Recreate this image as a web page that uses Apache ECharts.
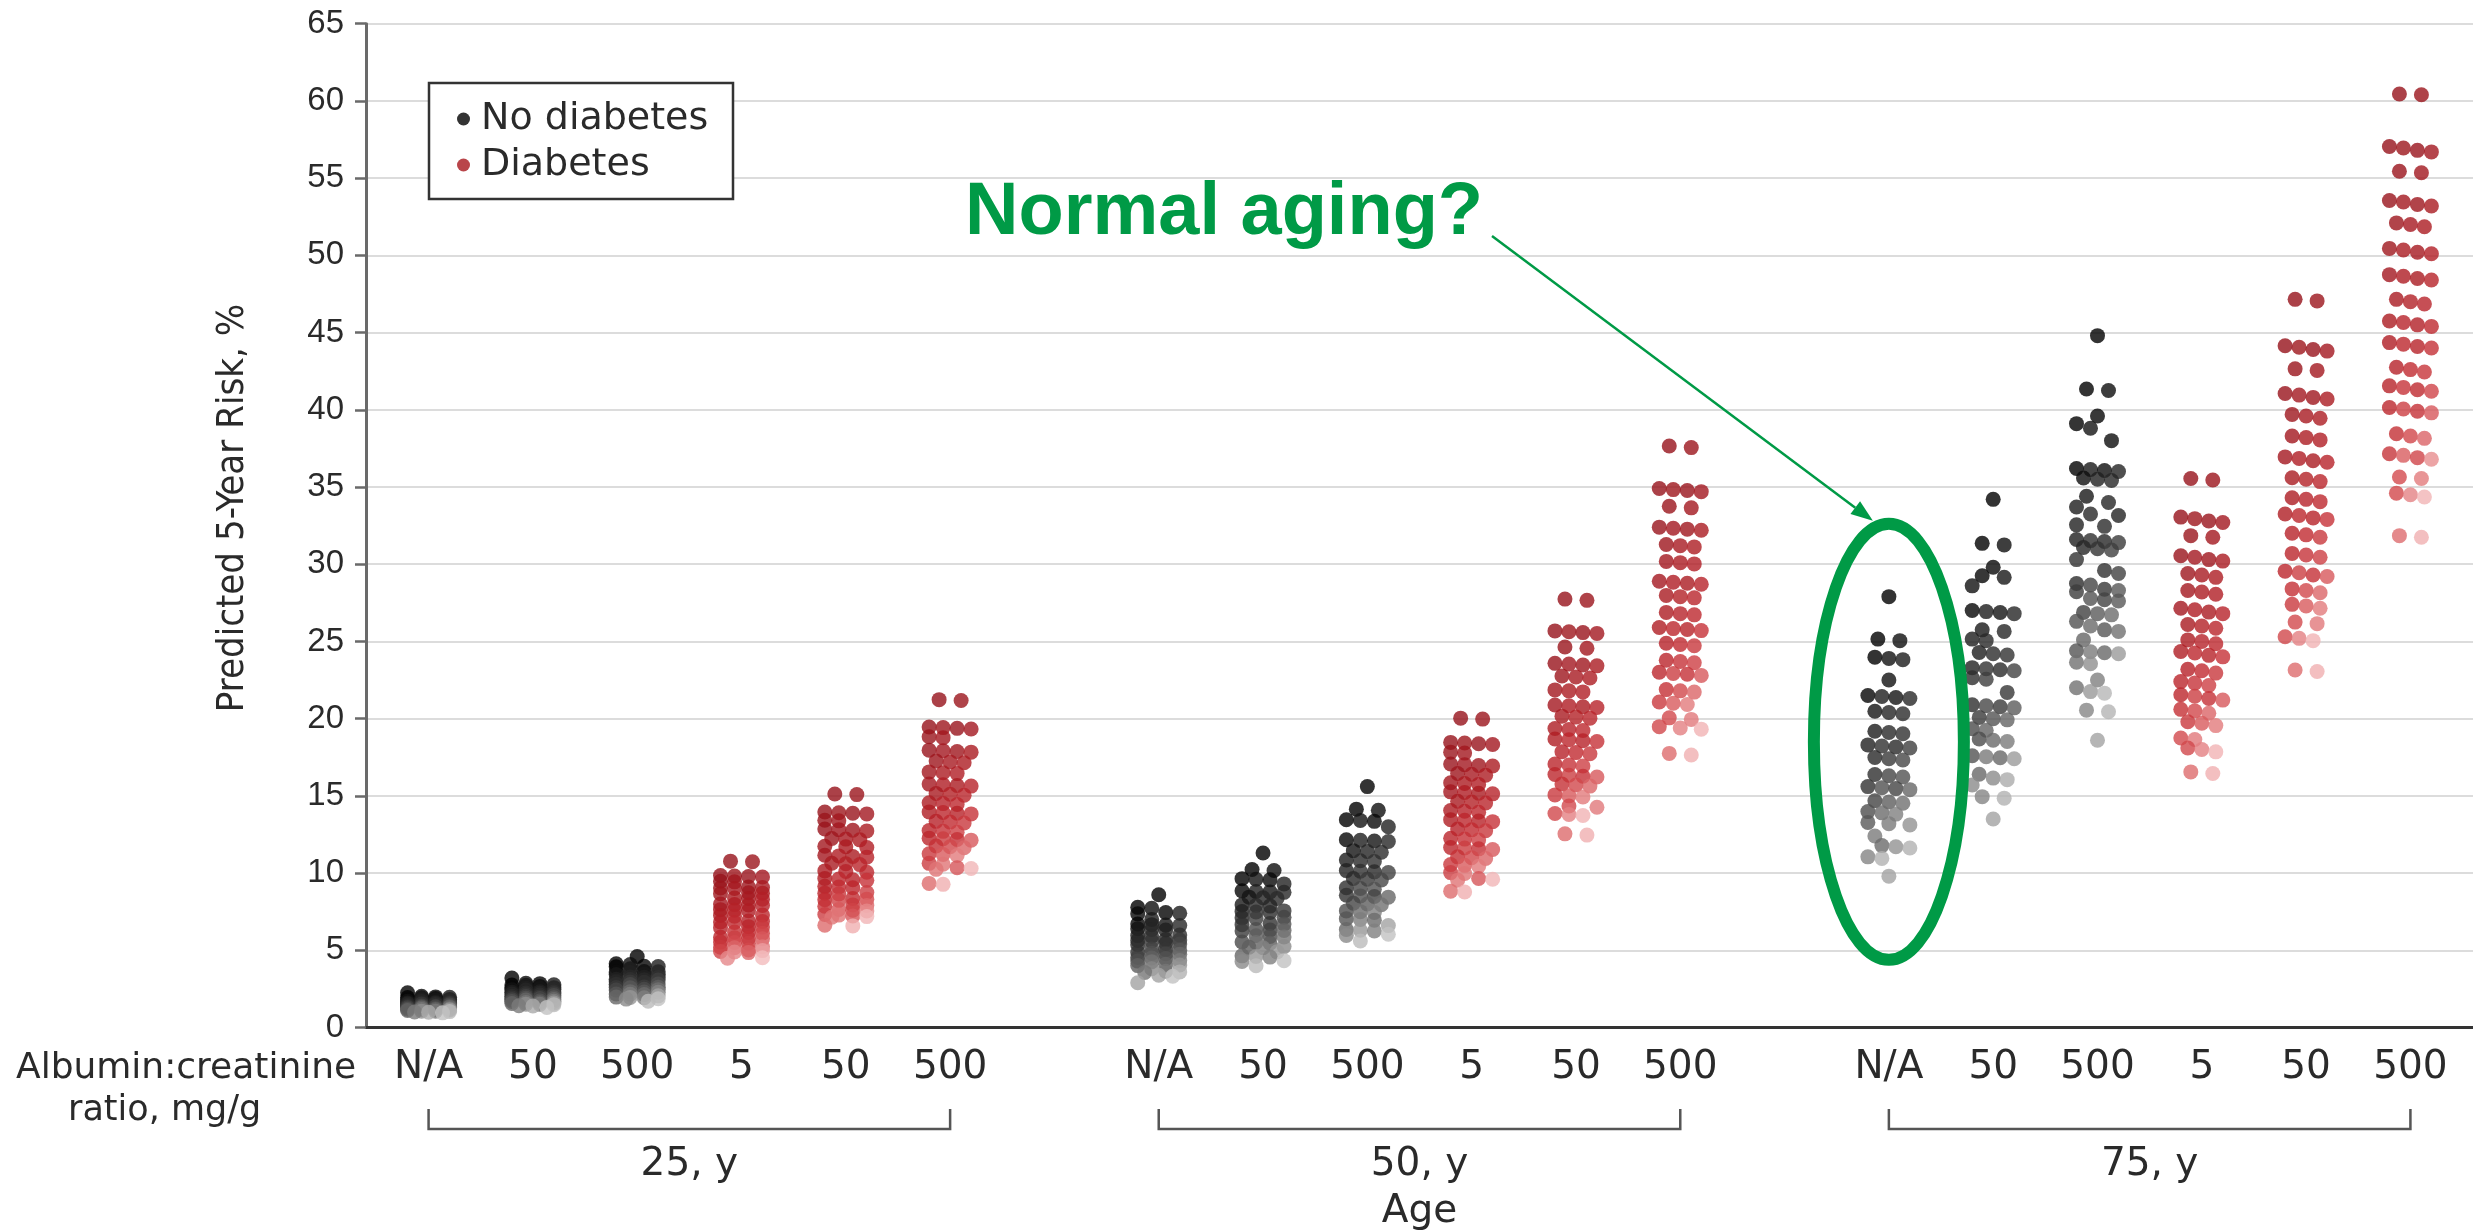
<!DOCTYPE html>
<html>
<head>
<meta charset="utf-8">
<script src="https://cdn.jsdelivr.net/npm/echarts@6/dist/echarts.min.js"></script>
<style>
html,body{margin:0;padding:0;background:#fff;}
#c{width:2473px;height:1232px;}
</style>
</head>
<body>
<div id="c"></div>
<script>
// ---------------- DATA ----------------
const ageGroups = ['25, y', '50, y', '75, y'];
const acrLabels = ['N/A', '50', '500', '5', '50', '500'];
const hasDiabetes = [false, false, false, true, true, true];
const seriesNames = ['No diabetes', 'Diabetes'];
const yTitle = 'Predicted 5-Year Risk, %';
const xTitle = 'Age';
const acrTitle = ['Albumin:creatinine', 'ratio, mg/g'];
const calloutText = 'Normal aging?';

// Predicted 5-year risk (%) for each simulated person, per column
const risk25_noDM_NA = [2.25, 2.02,1.98, 1.96,1.94,1.92, 1.87, 1.82,1.8,1.79,1.77, 1.72,1.7,1.68, 1.62,1.6,1.58, 1.56,1.55,1.53,1.52, 1.5,1.48,1.46, 1.42,1.4,1.38, 1.36,1.35,1.33,1.32, 1.3,1.28,1.26, 1.22,1.2,1.18, 1.16,1.15,1.13, 1.1, 1.06,1.05,1.03, 1.0,0.99, 0.95];
const risk25_noDM_50 = [3.2, 2.87,2.84, 2.77,2.75,2.73, 2.66, 2.58,2.56,2.54,2.52, 2.47,2.45,2.43, 2.32,2.3,2.28, 2.23,2.21,2.19,2.17, 2.12,2.1,2.08, 2.02,2.0,1.98, 1.93,1.91,1.89,1.87, 1.82,1.8,1.78, 1.72,1.7,1.68, 1.62,1.6,1.58, 1.55, 1.51,1.5,1.48, 1.41,1.39, 1.3];
const risk25_noDM_500 = [4.6, 4.12,4.08, 3.97,3.95,3.93, 3.8, 3.63,3.61,3.59,3.57, 3.47,3.45,3.43, 3.27,3.25,3.23, 3.13,3.11,3.09,3.07, 2.97,2.95,2.93, 2.82,2.8,2.78, 2.63,2.61,2.59,2.57, 2.47,2.45,2.43, 2.32,2.3,2.28, 2.17,2.15,2.13, 2.05, 1.97,1.95,1.93, 1.86,1.84, 1.7];
const risk25_DM_5 = [10.77,10.73, 9.84,9.81,9.78,9.75, 9.47,9.43, 9.09,9.06,9.03,9.0, 8.73,8.7,8.66, 8.38,8.35,8.31, 7.99,7.96,7.93,7.9, 7.63,7.6,7.56, 7.28,7.25,7.21, 6.89,6.86,6.83,6.8, 6.53,6.5,6.46, 6.18,6.15,6.11, 5.84,5.81,5.78,5.75, 5.53,5.5,5.46, 5.23,5.2,5.16, 5.02,4.98, 4.92,4.89,4.85, 4.52,4.48];
const risk25_DM_50 = [15.12,15.08, 13.95,13.91,13.87,13.83, 13.42,13.38, 12.85,12.81,12.77,12.73, 12.24,12.2,12.15, 11.74,11.7,11.65, 11.15,11.11,11.07,11.03, 10.64,10.6,10.55, 10.14,10.1,10.05, 9.65,9.61,9.57,9.53, 9.14,9.1,9.05, 8.74,8.7,8.65, 8.35,8.31,8.27,8.23, 7.94,7.9,7.85, 7.64,7.6,7.55, 7.32,7.28, 7.22,7.18,7.14, 6.62,6.58];
const risk25_DM_500 = [21.23,21.17, 19.46,19.42,19.37,19.33, 18.83,18.77, 17.96,17.92,17.87,17.83, 17.25,17.2,17.14, 16.55,16.5,16.44, 15.76,15.72,15.67,15.63, 15.15,15.1,15.04, 14.55,14.5,14.44, 13.96,13.92,13.87,13.83, 13.35,13.3,13.24, 12.75,12.7,12.64, 12.26,12.22,12.17,12.13, 11.75,11.7,11.64, 11.25,11.2,11.14, 10.63,10.57, 10.35,10.3,10.24, 9.33,9.27];

const risk50_noDM_NA = [8.6, 7.78,7.72, 7.44,7.4,7.36, 7.0, 6.7,6.66,6.63,6.6, 6.39,6.35,6.31, 5.99,5.95,5.91, 5.7,5.66,5.63,5.6, 5.44,5.4,5.36, 5.09,5.05,5.01, 4.85,4.81,4.78,4.75, 4.54,4.5,4.46, 4.34,4.3,4.26, 4.09,4.05,4.01, 3.8, 3.64,3.6,3.56, 3.38,3.32, 2.9];
const risk50_noDM_50 = [11.3, 10.23,10.17, 9.64,9.6,9.56, 9.3, 8.85,8.81,8.78,8.75, 8.44,8.4,8.36, 7.94,7.9,7.86, 7.55,7.51,7.48,7.45, 7.14,7.1,7.06, 6.74,6.7,6.66, 6.35,6.31,6.28,6.25, 5.94,5.9,5.86, 5.54,5.5,5.46, 5.24,5.2,5.16, 4.9, 4.64,4.6,4.56, 4.33,4.27, 4.0];
const risk50_noDM_500 = [15.6, 14.14,14.06, 13.45,13.4,13.35, 13.0, 12.16,12.12,12.08,12.04, 11.45,11.4,11.35, 10.85,10.8,10.75, 10.16,10.12,10.08,10.04, 9.65,9.6,9.55, 9.05,9.0,8.95, 8.56,8.52,8.48,8.44, 8.05,8.0,7.95, 7.55,7.5,7.45, 7.05,7.0,6.95, 6.6, 6.35,6.3,6.25, 6.04,5.96, 5.6];
const risk50_DM_5 = [20.03,19.97, 18.46,18.42,18.37,18.33, 17.83,17.77, 17.06,17.02,16.97,16.93, 16.45,16.4,16.34, 15.85,15.8,15.74, 15.26,15.22,15.17,15.13, 14.65,14.6,14.54, 14.05,14.0,13.94, 13.46,13.42,13.37,13.33, 12.85,12.8,12.74, 12.25,12.2,12.14, 11.66,11.62,11.57,11.53, 11.05,11.0,10.94, 10.55,10.5,10.44, 10.03,9.97, 9.65,9.6,9.54, 8.83,8.77];
const risk50_DM_50 = [27.74,27.66, 25.68,25.63,25.57,25.52, 24.64,24.56, 23.58,23.53,23.47,23.42, 22.76,22.7,22.63, 21.86,21.8,21.73, 20.88,20.83,20.77,20.72, 20.16,20.1,20.03, 19.36,19.3,19.23, 18.68,18.63,18.57,18.52, 17.86,17.8,17.73, 17.06,17.0,16.93, 16.38,16.33,16.27,16.22, 15.76,15.7,15.63, 15.06,15.0,14.93, 14.34,14.26, 13.86,13.8,13.73, 12.54,12.46];
const risk50_DM_500 = [37.65,37.55, 34.9,34.83,34.77,34.7, 33.75,33.65, 32.4,32.33,32.27,32.2, 31.28,31.2,31.12, 30.18,30.1,30.02, 28.9,28.83,28.77,28.7, 27.98,27.9,27.82, 26.88,26.8,26.72, 25.9,25.83,25.77,25.7, 24.88,24.8,24.72, 23.78,23.7,23.62, 23.0,22.93,22.87,22.8, 21.88,21.8,21.72, 21.08,21.0,20.92, 20.05,19.95, 19.48,19.4,19.32, 17.75,17.65];

const risk75_noDM_NA = [27.9, 25.15,25.05, 23.98,23.9,23.82, 22.5, 21.5,21.43,21.37,21.3, 20.48,20.4,20.32, 19.18,19.1,19.02, 18.3,18.23,18.17,18.1, 17.48,17.4,17.32, 16.38,16.3,16.22, 15.6,15.53,15.47,15.4, 14.68,14.6,14.52, 13.98,13.9,13.82, 13.28,13.2,13.12, 12.4, 11.78,11.7,11.62, 11.05,10.95, 9.8];
const risk75_noDM_50 = [34.2, 31.35,31.25, 29.8, 29.25,29.15, 28.6, 27.0,26.93,26.87,26.8, 25.75,25.65, 25.15,25.05, 24.28,24.2,24.12, 23.3,23.23,23.17,23.1, 22.65,22.55, 21.7, 20.9,20.83,20.77,20.7, 20.08,20.0,19.92, 19.35,19.25, 18.68,18.6,18.52, 17.6,17.53,17.47,17.4, 16.4, 16.15,16.05, 15.7, 14.95,14.85, 13.5];
const risk75_noDM_500 = [44.8, 41.35,41.25, 39.6, 39.1, 38.8, 38.0, 36.2,36.13,36.07,36.0, 35.58,35.5,35.42, 34.4, 34.0, 33.7, 33.25,33.15, 32.55,32.45, 31.6,31.53,31.47,31.4, 31.08,31.0,30.92, 30.3, 29.6, 29.4, 28.75,28.65, 28.38,28.3,28.22, 27.78,27.7,27.62, 26.88,26.8,26.72, 26.3, 26.0, 25.75,25.65, 25.1, 24.4,24.33,24.27,24.2, 23.65,23.55, 22.5, 22.0, 21.75,21.65, 20.55,20.45, 18.6];
const risk75_DM_5 = [35.55,35.45, 33.05,32.95,32.8,32.7, 31.85,31.75, 30.55,30.45,30.3,30.2, 29.4,29.3,29.15, 28.3,28.2,28.05, 27.15,27.05,26.9,26.8, 26.1,26.0,25.85, 25.1,25.0,24.85, 24.35,24.25,24.1,24.0, 23.2,23.1,22.95, 22.4,22.3,22.15, 21.55,21.45,21.3,21.2, 20.6,20.5,20.35, 19.8,19.7,19.55, 18.75,18.65, 18.1,18.0,17.85, 16.55,16.45];
const risk75_DM_50 = [47.15,47.05, 44.15,44.05,43.9,43.8, 42.65,42.55, 41.05,40.95,40.8,40.7, 39.7,39.6,39.45, 38.3,38.2,38.05, 36.95,36.85,36.7,36.6, 35.6,35.5,35.35, 34.3,34.2,34.05, 33.25,33.15,33.0,32.9, 32.0,31.9,31.75, 30.7,30.6,30.45, 29.55,29.45,29.3,29.2, 28.4,28.3,28.15, 27.4,27.3,27.15, 26.25,26.15, 25.3,25.2,25.05, 23.15,23.05];
const risk75_DM_500 = [60.45,60.4, 57.05,56.95,56.8,56.7, 55.45,55.35, 53.55,53.45,53.3,53.2, 52.1,52.0,51.85, 50.45,50.35,50.2,50.1, 48.75,48.65,48.5,48.4, 47.15,47.0,46.85, 45.75,45.65,45.5,45.4, 44.35,44.25,44.1,44.0, 42.75,42.6,42.45, 41.55,41.45,41.3,41.2, 40.15,40.05,39.9,39.8, 38.45,38.3,38.15, 37.15,37.05,36.9,36.8, 35.65,35.55, 34.6,34.5,34.35, 31.85,31.75];

const columnsByAge = [
  [risk25_noDM_NA, risk25_noDM_50, risk25_noDM_500, risk25_DM_5, risk25_DM_50, risk25_DM_500],
  [risk50_noDM_NA, risk50_noDM_50, risk50_noDM_500, risk50_DM_5, risk50_DM_50, risk50_DM_500],
  [risk75_noDM_NA, risk75_noDM_50, risk75_noDM_500, risk75_DM_5, risk75_DM_50, risk75_DM_500]
];

// ---------------- LAYOUT / STYLE ----------------
const W = 2473, H = 1232;
const GRID = {left: 366, right: 0, top: 23.7, bottom: 204.5};
const Y_MIN = 0, Y_MAX = 65;
const pxPerUnit = (H - GRID.top - GRID.bottom) / (Y_MAX - Y_MIN);
const DOT = 15;
const SLOT = 7; // categories per age group (6 columns + gap)

const redRamp = [[0,'#96121a'],[0.35,'#ad1b22'],[0.6,'#c0292f'],[0.78,'#d2484c'],[0.9,'#e27a7c'],[1,'#f3bcbd']];
const greyRamp = [[0,'#000000'],[0.22,'#1e1e1e'],[0.45,'#323232'],[0.65,'#575757'],[0.85,'#868686'],[1,'#c2c2c2']];
const rowTint = {1:[0], 2:[-0.04,0.06], 3:[-0.08,0.04,0.1], 4:[-0.1,0.05,-0.04,0.12]};

function hex2rgb(h){return [parseInt(h.substr(1,2),16),parseInt(h.substr(3,2),16),parseInt(h.substr(5,2),16)];}
function rampColor(ramp, s){
  s = Math.max(0, Math.min(1, s));
  for (let i = 1; i < ramp.length; i++){
    if (s <= ramp[i][0]){
      const a = ramp[i-1], b = ramp[i];
      const f = (s - a[0]) / (b[0] - a[0]);
      const ca = hex2rgb(a[1]), cb = hex2rgb(b[1]);
      const c = ca.map((v,k)=>Math.round(v + (cb[k]-v)*f));
      return 'rgb(' + c.join(',') + ')';
    }
  }
  return ramp[ramp.length-1][1];
}

const patterns = {
  1: [[0],[-14],[14],[-21],[21],[-7],[7]],
  2: [[-11,11],[-21,-7],[7,21],[-21,7],[-7,21]],
  3: [[-14,0,14],[-21,-7,7],[-7,7,21],[-21,0,21]],
  4: [[-21,-7,7,21]]
};

// swarm-like layout: group close values into rows (max 4), place rows to minimise overlap
function layoutColumn(vals){
  const sorted = vals.slice().sort((a,b)=>b-a);
  const rows = []; let cur = null;
  sorted.forEach(v=>{
    if (!cur || cur.length === 4 || (cur[0]-v)*pxPerUnit > 7){ cur = [v]; rows.push(cur); }
    else cur.push(v);
  });
  const placed = [], out = [];
  rows.forEach(row=>{
    const ys = row.map(v=>-v*pxPerUnit);
    let best = null, bestCost = Infinity;
    patterns[row.length].forEach(p=>{
      let cost = 0;
      p.forEach((x,i)=>{
        placed.forEach(q=>{
          const dy = ys[i]-q.y;
          if (Math.abs(dy) >= DOT) return;
          const d = Math.hypot(x-q.x, dy);
          if (d < DOT) cost += (DOT-d)*(DOT-d);
        });
      });
      if (cost < bestCost - 1e-6){ bestCost = cost; best = p; }
    });
    row.forEach((v,i)=>{ placed.push({x:best[i], y:ys[i]}); out.push({v:v, dx:best[i], pos:i, n:row.length}); });
  });
  return out;
}

const series = [];
const tickIdx = [], tickText = {};
columnsByAge.forEach((cols, g)=>{
  cols.forEach((vals, k)=>{
    const idx = g*SLOT + k;
    tickIdx.push(idx); tickText[idx] = acrLabels[k];
    const dm = hasDiabetes[k];
    const laid = layoutColumn(vals);
    const n = laid.length;
    series.push({
      type: 'scatter',
      name: dm ? seriesNames[1] : seriesNames[0],
      symbol: 'circle',
      symbolSize: DOT,
      silent: true,
      animation: false,
      itemStyle: {color: dm ? '#a8171d' : '#000000'},
      data: laid.map((d,i)=>{
        const t = n > 1 ? i/(n-1) : 0;
        const s = t*0.92 + rowTint[d.n][d.pos];
        return {value:[idx, d.v], symbolOffset:[d.dx, 0], itemStyle:{color: rampColor(dm ? redRamp : greyRamp, s)}};
      })
    });
  });
});

const option = {
  backgroundColor: '#ffffff',
  animation: false,
  grid: {left: GRID.left, right: GRID.right, top: GRID.top, bottom: GRID.bottom, containLabel: false},
  legend: {
    data: seriesNames,
    orient: 'vertical',
    left: 429, top: 83,
    icon: 'circle',
    itemWidth: 13, itemHeight: 13,
    itemGap: 8,
    padding: [17, 20, 15, 28],
    borderColor: '#333', borderWidth: 2.5,
    backgroundColor: '#fff',
    selectedMode: false,
    textStyle: {fontFamily: 'DejaVu Sans', fontSize: 38, color: '#2a2a2a', lineHeight: 37, padding: [0,0,0,6], width: 232}
  },
  xAxis: {
    type: 'value', min: -0.6, max: 19.6,
    axisLine: {show: true, onZero: false, lineStyle: {color: '#333', width: 3}},
    axisTick: {show: false},
    splitLine: {show: false},
    axisLabel: {
      customValues: tickIdx,
      formatter: v => tickText[v] || '',
      fontFamily: 'DejaVu Sans', fontSize: 39, color: '#2a2a2a', margin: 21
    }
  },
  yAxis: {
    type: 'value', min: Y_MIN, max: Y_MAX, interval: 5,
    axisLine: {show: true, onZero: false, lineStyle: {color: '#6a6a6a', width: 3}},
    axisTick: {show: true, length: 11, lineStyle: {color: '#6a6a6a', width: 2.5}},
    axisLabel: {fontFamily: '"Liberation Sans", Arial, sans-serif', fontSize: 33, color: '#2a2a2a', margin: 22},
    splitLine: {show: true, lineStyle: {color: '#dcdcdc', width: 2}}
  },
  series: series
};

const chart = echarts.init(document.getElementById('c'), null, {width: W, height: H, renderer: 'canvas'});
chart.setOption(option);

// ---------------- TITLES & ANNOTATIONS ----------------
const toPx = (x, y) => chart.convertToPixel({xAxisIndex: 0, yAxisIndex: 0}, [x, y]);
const graphics = [];
const labelFont = '39px "DejaVu Sans"';
const yBr1 = 1109, yBr2 = 1129;
ageGroups.forEach((lab, g)=>{
  const x1 = toPx(g*SLOT, 0)[0], x2 = toPx(g*SLOT + 5, 0)[0];
  graphics.push({type:'polyline', silent:true, shape:{points:[[x1,yBr1],[x1,yBr2],[x2,yBr2],[x2,yBr1]]}, style:{stroke:'#555', lineWidth:2.5, fill:null}});
  graphics.push({type:'text', silent:true, style:{text:lab, x:(x1+x2)/2, y:1165, align:'center', verticalAlign:'middle', font:labelFont, fill:'#2a2a2a'}});
  if (g === 1) graphics.push({type:'text', silent:true, style:{text:xTitle, x:(x1+x2)/2, y:1212, align:'center', verticalAlign:'middle', font:labelFont, fill:'#2a2a2a'}});
});
graphics.push({type:'text', silent:true, style:{text:acrTitle[0], x:16, y:1069, align:'left', verticalAlign:'middle', font:'36px "DejaVu Sans"', fill:'#2a2a2a'}});
graphics.push({type:'text', silent:true, style:{text:acrTitle[1], x:68, y:1111, align:'left', verticalAlign:'middle', font:'35px "DejaVu Sans"', fill:'#2a2a2a'}});
// y-axis title
graphics.push({type:'text', silent:true, x:233, y:508, rotation:Math.PI/2, style:{text:yTitle, x:0, y:0, align:'center', verticalAlign:'middle', font:'38px "Liberation Sans Narrow", "DejaVu Sans Condensed", sans-serif', fill:'#2a2a2a'}});

// "Normal aging?" callout around the 75-y, no diabetes, N/A column
const green = '#009a46';
const ec = toPx(2*SLOT, 18.5);
const rx = 75, ry = 218;
graphics.push({type:'ellipse', silent:true, z:100, shape:{cx:ec[0], cy:ec[1], rx:rx, ry:ry}, style:{fill:null, stroke:green, lineWidth:12}});
graphics.push({type:'text', silent:true, z:100, style:{text:calloutText, x:965, y:214, align:'left', verticalAlign:'middle', font:'bold 74px "Liberation Sans", Arial, sans-serif', fill:green}});
const a0 = [1492, 236], tip = [ec[0]-16, ec[1]-221];
const dxA = tip[0]-a0[0], dyA = tip[1]-a0[1], L = Math.hypot(dxA, dyA);
const ux = dxA/L, uy = dyA/L, hl = 22, hw = 8;
const base = [tip[0]-ux*hl, tip[1]-uy*hl];
graphics.push({type:'line', silent:true, z:100, shape:{x1:a0[0], y1:a0[1], x2:base[0], y2:base[1]}, style:{stroke:green, lineWidth:2.5}});
graphics.push({type:'polygon', silent:true, z:100, shape:{points:[tip, [base[0]-uy*hw, base[1]+ux*hw], [base[0]+uy*hw, base[1]-ux*hw]]}, style:{fill:green}});

chart.setOption({graphic: graphics});
</script>
</body>
</html>
